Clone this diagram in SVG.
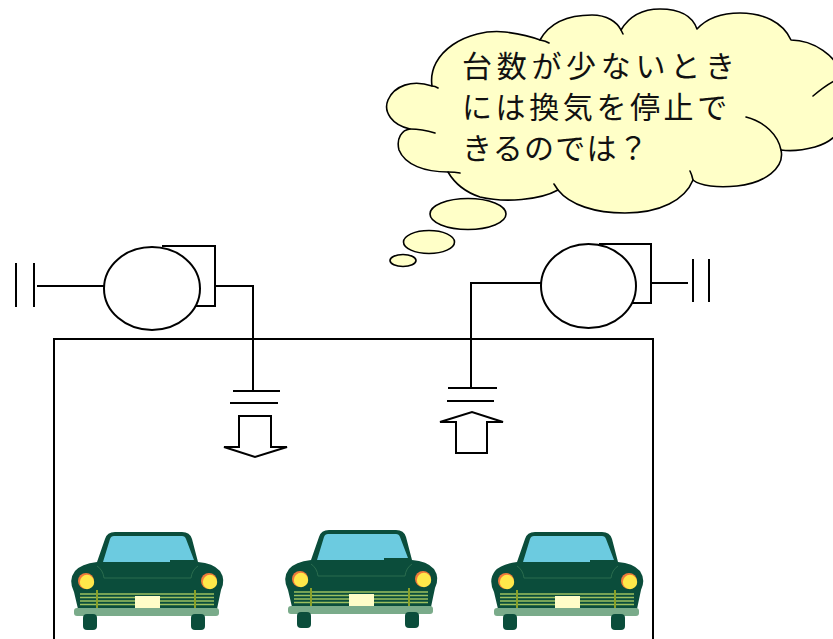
<svg xmlns="http://www.w3.org/2000/svg" width="833" height="639" viewBox="0 0 833 639">
  <style>
    .ln { fill: none; stroke: #000; stroke-width: 2; stroke-linecap: butt; }
    .shape { fill: #fff; stroke: #000; stroke-width: 2; }
    .cloud { fill: #ffffc8; stroke: #000; stroke-width: 1.6; stroke-linejoin: round; }
    .tail { fill: none; stroke: #000; stroke-width: 1.6; stroke-linecap: round; }
    .say { font-family: "Noto Sans CJK JP", "Noto Sans CJK SC", sans-serif; font-size: 30px; fill: #111; }
    .body { fill: #0b4d3b; }
    .glass { fill: #6ccbe0; }
    .grille { fill: none; stroke: #9cc060; stroke-width: 1.3; }
    .post { fill: none; stroke: #8aa028; stroke-width: 2; }
  </style>
  <defs>
    <!-- front view of a parked car -->
    <g id="car">
      <path class="body" d="M105,539 Q107,532 115,532 L182,532 Q190,532 192,539 L198,562 Q213,563 220,571 Q226,580 221,590 L217,609 L78,609 L74,592 Q68,580 75,571 Q81,564 97,562 Z"/>
      <path class="glass" d="M114,536 L182,536 Q185,536 186,539 L194,560 L170,560 L170,562 L103,562 L110,539 Q111,536 114,536 Z"/>
      <path d="M97,566 Q103,570 104,578 L191,578 Q192,570 198,566" fill="none" stroke="#2a6c4e" stroke-width="1"/>
      <path class="grille" d="M80,594 H214 M80,597.5 H214 M80,601 H214 M80,604.5 H214"/>
      <path class="post" d="M97,590 V609 M195,590 V609"/>
      <rect x="135" y="596" width="25" height="12" fill="#fffdc8"/>
      <rect x="74" y="608" width="145" height="8" rx="3" fill="#7aab8a"/>
      <rect x="83" y="614" width="14" height="16" rx="4" class="body"/>
      <rect x="191" y="614" width="14" height="16" rx="4" class="body"/>
      <circle cx="86" cy="581" r="8" fill="#f07a3a"/>
      <circle cx="87" cy="582" r="7.2" fill="#ffe84a"/>
      <circle cx="209" cy="581" r="8" fill="#f07a3a"/>
      <circle cx="210" cy="582" r="7.2" fill="#ffe84a"/>
    </g>
  </defs>

  <rect width="833" height="639" fill="#fff"/>

  <!-- parking room -->
  <g id="room">
    <path class="ln" d="M54,650 V339 H653 V650" stroke="#222"/>
  </g>

  <!-- exhaust fan (left) -->
  <g id="fan-left">
    <path class="ln" d="M162,246 H215 V306 H196"/>
    <ellipse class="shape" cx="152" cy="288.5" rx="48" ry="41.5"/>
    <path class="ln" d="M16,263 V307 M34,263 V307"/>
  </g>

  <!-- supply fan (right) -->
  <g id="fan-right">
    <path class="ln" d="M599,244 H651 V303 H631"/>
    <ellipse class="shape" cx="588.5" cy="286" rx="47.5" ry="42"/>
    <path class="ln" d="M693,259 V302 M709,259 V302"/>
  </g>

  <!-- ducts and outlets -->
  <g id="outlet-left">
    <path class="ln" d="M233,391 H280 M230,403 H278"/>
    <polygon class="shape" points="239,416 271,416 271,447 287,447 255,457 224,447 239,447"/>
  </g>
  <g id="outlet-right">
    <path class="ln" d="M448,388 H497 M447,401 H494"/>
    <polygon class="shape" points="456,453 487,453 487,422 503,422 472,412 440,422 456,422"/>
  </g>

  <g id="connectors">
    <path class="ln" d="M37,286 H104"/>
    <path class="ln" d="M215,286 H253 V391"/>
    <path class="ln" d="M651,283 H688"/>
    <path class="ln" d="M541,283 H471 V388"/>
  </g>

  <!-- thought bubble -->
  <g id="thought">
    <path class="cloud" d="M432,86
      C427,52 468,28 505,32 C520,34 532,37 540,40
      C550,22 570,15 592,15 C607,15 617,22 621,30
      C630,15 645,9 660,9 C678,9 692,15 697,29
      C708,17 725,13 740,13 C763,13 783,22 791,40
      C812,40 838,55 842,78 L848,96
      C850,120 840,140 815,147 C800,151 788,151 781,150
      C785,168 765,183 737,186 C718,188 700,186 693,180
      C685,200 660,213 625,213 C595,213 570,205 558,190
      C540,200 505,203 480,197 C465,192 455,184 448,172
      C425,172 405,165 399,150 C396,138 402,130 410,129
      C392,125 383,112 388,100 C394,86 412,79 432,86 Z"/>
    <path class="tail" d="M540,40 Q546,41 549,43 M746,117 C765,122 778,135 781,150 M693,180 Q692,175 690,171 M558,190 L554,184 M448,172 Q455,172 460,173 M410,129 Q422,129 435,133 M432,86 Q435,86 438,88 M813,96 C820,90 828,84 836,80 M621,30 L623,34"/>
    <ellipse class="cloud" cx="468" cy="214" rx="38" ry="15.5"/>
    <ellipse class="cloud" cx="429" cy="242" rx="25.5" ry="11.5"/>
    <ellipse class="cloud" cx="403" cy="260.5" rx="13" ry="6"/>
    <text class="say" x="462" y="77" letter-spacing="4.7">台数が少ないとき</text>
    <text class="say" x="462" y="118" letter-spacing="3.6">には換気を停止で</text>
    <text class="say" x="462" y="159" letter-spacing="1.3">きるのでは？</text>
  </g>

  <!-- parked cars -->
  <g id="car-1"><use href="#car"/></g>
  <g id="car-2"><use href="#car" transform="translate(214,-2)"/></g>
  <g id="car-3"><use href="#car" transform="translate(420,0)"/></g>
</svg>
